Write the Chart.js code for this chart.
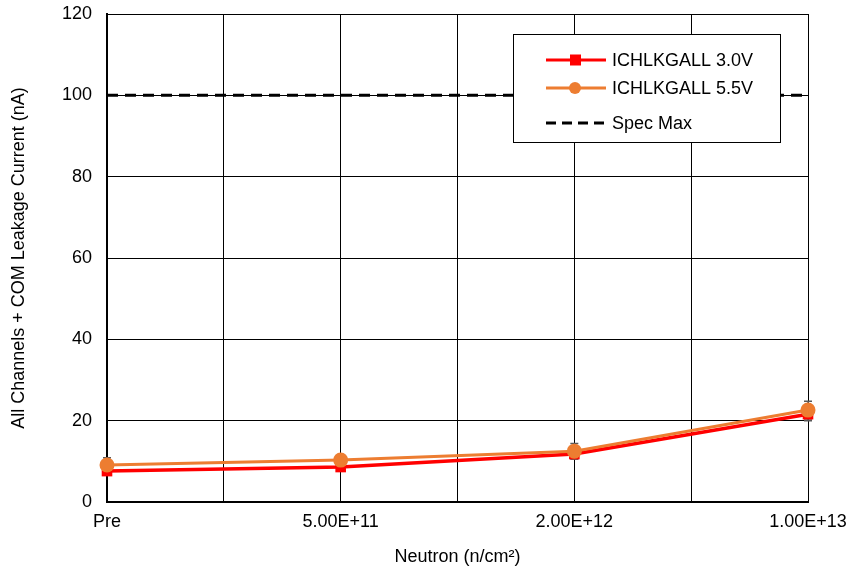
<!DOCTYPE html>
<html><head><meta charset="utf-8">
<script src="https://cdn.jsdelivr.net/npm/chart.js@4"></script>
<style>html,body{margin:0;padding:0;background:#fff}#w{width:851px;height:572px}</style>
</head><body><div id="w"><canvas id="c"></canvas></div>
<script>
const categories = ["Pre", "5.00E+11", "2.00E+12", "1.00E+13"];
const seriesNames = ["ICHLKGALL 3.0V", "ICHLKGALL 5.5V", "Spec Max"];
const values30 = [7.6, 8.6, 11.8, 21.6];
const values55 = [9.1, 10.3, 12.5, 22.6];
const err30 = [1.0, 0.8, 1.2, 1.6];
const err55 = [1.8, 1.2, 1.9, 2.2];
const specMax = [100, 100, 100, 100];
const yTicks = [0, 20, 40, 60, 80, 100, 120];

const FONT = "'Liberation Sans', Arial, sans-serif";
const FS = 18;
const toPts = arr => arr.map((v, i) => ({x: i, y: v}));

const errorBars = {
  id: 'errorBars',
  beforeDatasetsDraw(chart) {
    const ctx = chart.ctx, xs = chart.scales.x, ys = chart.scales.y;
    ctx.save();
    ctx.strokeStyle = '#595959';
    ctx.lineWidth = 1.5;
    chart.data.datasets.forEach(ds => {
      if (!ds.err) return;
      ds.data.forEach((p, i) => {
        const x = xs.getPixelForValue(p.x);
        const yh = ys.getPixelForValue(p.y + ds.err[i]);
        const yl = ys.getPixelForValue(p.y - ds.err[i]);
        ctx.beginPath();
        ctx.moveTo(x, yh); ctx.lineTo(x, yl);
        ctx.moveTo(x - 4, yh); ctx.lineTo(x + 4, yh);
        ctx.moveTo(x - 4, yl); ctx.lineTo(x + 4, yl);
        ctx.stroke();
      });
    });
    ctx.restore();
  }
};

const legendBox = {
  id: 'legendBox',
  afterDraw(chart) {
    const ctx = chart.ctx;
    const bx = 513.5, by = 34.5, bw = 267, bh = 108;
    ctx.save();
    ctx.fillStyle = '#fff';
    ctx.fillRect(bx, by, bw, bh);
    ctx.strokeStyle = '#000'; ctx.lineWidth = 1;
    ctx.strokeRect(bx, by, bw, bh);
    ctx.font = FS + 'px ' + FONT;
    ctx.textBaseline = 'middle';
    const rows = [60, 88, 123];
    seriesNames.forEach((name, i) => {
      const ds = chart.data.datasets.find(d => d.label === name);
      const y = rows[i];
      ctx.strokeStyle = ds.borderColor;
      ctx.lineWidth = 3;
      ctx.setLineDash(ds.borderDash ? [10, 6] : []);
      ctx.beginPath(); ctx.moveTo(546, y); ctx.lineTo(606, y); ctx.stroke();
      ctx.setLineDash([]);
      ctx.fillStyle = ds.pointBackgroundColor;
      if (ds.pointStyle === 'rect') ctx.fillRect(570, y - 5.5, 11, 11);
      else if (ds.pointRadius > 0) { ctx.beginPath(); ctx.arc(575, y, 6, 0, Math.PI * 2); ctx.fill(); }
      ctx.fillStyle = '#000';
      ctx.fillText(ds.label, 612, y + 1);
    });
    ctx.restore();
  }
};

new Chart(document.getElementById('c'), {
  type: 'scatter',
  data: {
    datasets: [
      {label: seriesNames[0], data: toPts(values30), err: err30, showLine: true, clip: false, borderColor: '#FF0000', backgroundColor: '#FF0000', pointBackgroundColor: '#FF0000', borderWidth: 3.5, pointStyle: 'rect', pointRadius: 7.5, pointBorderWidth: 0, order: 2},
      {label: seriesNames[1], data: toPts(values55), err: err55, showLine: true, clip: false, borderColor: '#ED7D31', backgroundColor: '#ED7D31', pointBackgroundColor: '#ED7D31', borderWidth: 3, pointStyle: 'circle', pointRadius: 7.5, pointBorderWidth: 0, order: 1},
      {label: seriesNames[2], data: toPts(specMax), showLine: true, borderColor: '#000', backgroundColor: '#000', pointBackgroundColor: '#000', borderWidth: 3, borderDash: [11, 7], pointRadius: 0, order: 3}
    ]
  },
  options: {
    responsive: true, maintainAspectRatio: false, animation: false,
    layout: {padding: {top: 14, right: 43, left: 0, bottom: 0}},
    plugins: {legend: {display: false}, tooltip: {enabled: false}},
    scales: {
      x: {
        type: 'linear', min: 0, max: 3,
        afterFit(s) { s.height = 70; s.paddingLeft = 0; s.paddingRight = 0; },
        ticks: {stepSize: 0.5, autoSkip: false, maxRotation: 0, padding: 9, color: '#000', font: {family: FONT, size: FS},
          callback: v => Number.isInteger(v) ? categories[v] : ''},
        grid: {color: '#000', lineWidth: 1, drawTicks: false},
        border: {color: '#000', width: 2},
        title: {display: true, text: 'Neutron (n/cm²)', color: '#000', font: {family: FONT, size: FS}, padding: {top: 6}}
      },
      y: {
        min: 0, max: 120,
        afterFit(s) { s.width = 107; s.paddingTop = 0; s.paddingBottom = 0; },
        afterBuildTicks(s) { s.ticks = yTicks.map(v => ({value: v})); },
        ticks: {padding: 15, color: '#000', font: {family: FONT, size: FS}},
        grid: {color: '#000', lineWidth: 1, drawTicks: false},
        border: {color: '#000', width: 2},
        title: {display: true, text: 'All Channels + COM Leakage Current (nA)', color: '#000', font: {family: FONT, size: FS}, padding: {top: 8, bottom: 4}}
      }
    }
  },
  plugins: [errorBars, legendBox]
});
</script></body></html>
